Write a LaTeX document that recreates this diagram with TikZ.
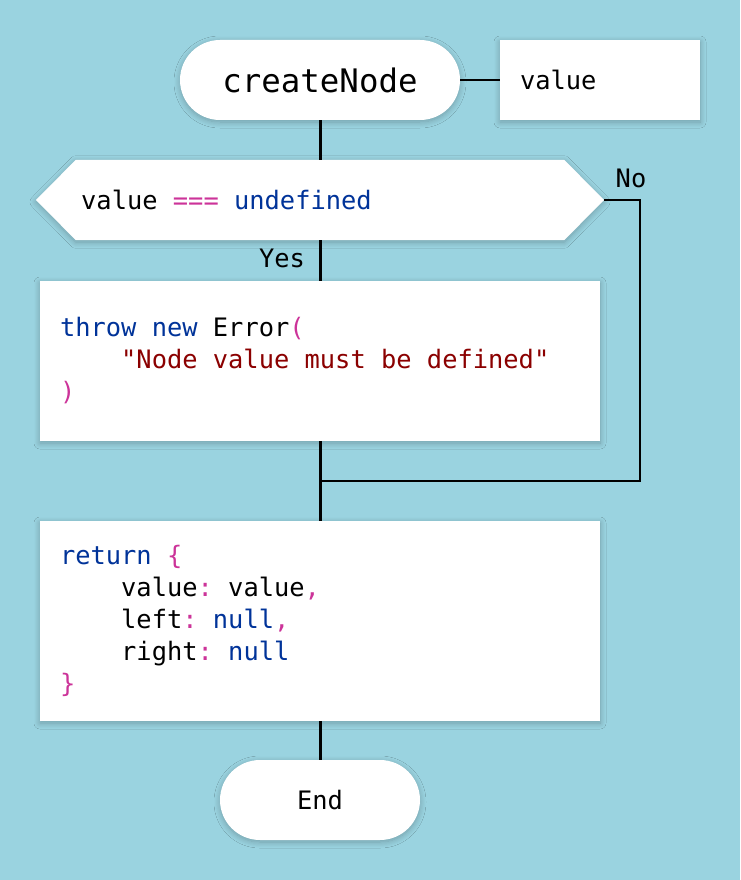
\documentclass[tikz,border=0pt]{standalone}
\usepackage{fontspec}
\setmonofont{DejaVu Sans Mono}
\usetikzlibrary{shapes.misc,shadows.blur,calc}
\definecolor{bg}{RGB}{154,211,224}
\definecolor{kw}{RGB}{0,51,153}
\definecolor{pu}{RGB}{204,51,153}
\definecolor{st}{RGB}{139,0,0}
\newcommand{\kw}[1]{\textcolor{kw}{#1}}
\newcommand{\pu}[1]{\textcolor{pu}{#1}}
\newcommand{\st}[1]{\textcolor{st}{#1}}
\newcommand{\s}{\hphantom{0}}
\newcommand{\ind}{\hphantom{0000}}
\tikzset{
  x=1pt, y=-1pt,
  codefont/.style={font=\ttfamily\fontsize{25.4}{32}\selectfont},
  shade/.style={blur shadow={shadow xshift=0pt, shadow yshift=-2pt, shadow blur radius=6pt, shadow blur steps=12, shadow opacity=25}},
  term/.style={rounded rectangle, fill=white, shade, inner sep=0pt, codefont},
  codebox/.style={rectangle, fill=white, shade, inner xsep=20pt, inner ysep=0pt, align=left, codefont},
  trunk/.style={draw=black, line width=3pt},
  branch/.style={draw=black, line width=2pt},
  lbl/.style={codefont, inner sep=0pt},
}
\begin{document}
\begin{tikzpicture}
\fill[bg] (0,0) rectangle (740,880);
\useasboundingbox (0,0) rectangle (740,880);

% nodes
\node[term, minimum width=280pt, minimum height=80pt, font=\ttfamily\fontsize{32.4}{38}\selectfont] (start) at (320,80) {createNode};
\node[codebox, minimum width=200pt, minimum height=80pt, text width=160pt] (valbox) at (600,80) {value};

\node[minimum width=488pt, minimum height=80pt, inner sep=0pt] (dec) at (320,200) {};
\coordinate (dectip) at (604,200);
\coordinate (decleft) at (36,200);
\fill[white, shade] (dec.north west) -- (dec.north east) -- (dectip) -- (dec.south east) -- (dec.south west) -- (decleft) -- cycle;
\node[lbl, anchor=west] (dectext) at (81,200) {value\s\pu{===}\s\kw{undefined}};

\node[codebox, minimum width=560pt, minimum height=160pt, text width=520pt] (err) at (320,361)
  {\kw{throw}\s\kw{new}\s{}Error\pu{(}\\
   \ind\st{\symbol{34}Node\s{}value\s{}must\s{}be\s{}defined\symbol{34}}\\
   \pu{)}};

\node[codebox, minimum width=560pt, minimum height=200pt, text width=520pt] (ret) at (320,621)
  {\kw{return}\s\pu{\{}\\
   \ind value\pu{:}\s{}value\pu{,}\\
   \ind left\pu{:}\s\kw{null}\pu{,}\\
   \ind right\pu{:}\s\kw{null}\\
   \pu{\}}};

\node[term, minimum width=200pt, minimum height=80pt] (end) at (320,800) {End};

\node[lbl] (yes) at (282,258) {Yes};
\node[lbl] (no) at (631,178) {No};

\coordinate (noturn) at (640,481);
\coordinate (join) at (320,481);

% connectors
\draw[branch] (start.east) -- (valbox.west);
\draw[trunk] (start.south) -- (dec.north);
\draw[trunk] (dec.south) -- (err.north);
\draw[trunk] (err.south) -- (ret.north);
\draw[trunk] (ret.south) -- (end.north);
\draw[branch] (dectip) -- (dectip -| noturn) -- (noturn) -- (join);
\end{tikzpicture}
\end{document}
